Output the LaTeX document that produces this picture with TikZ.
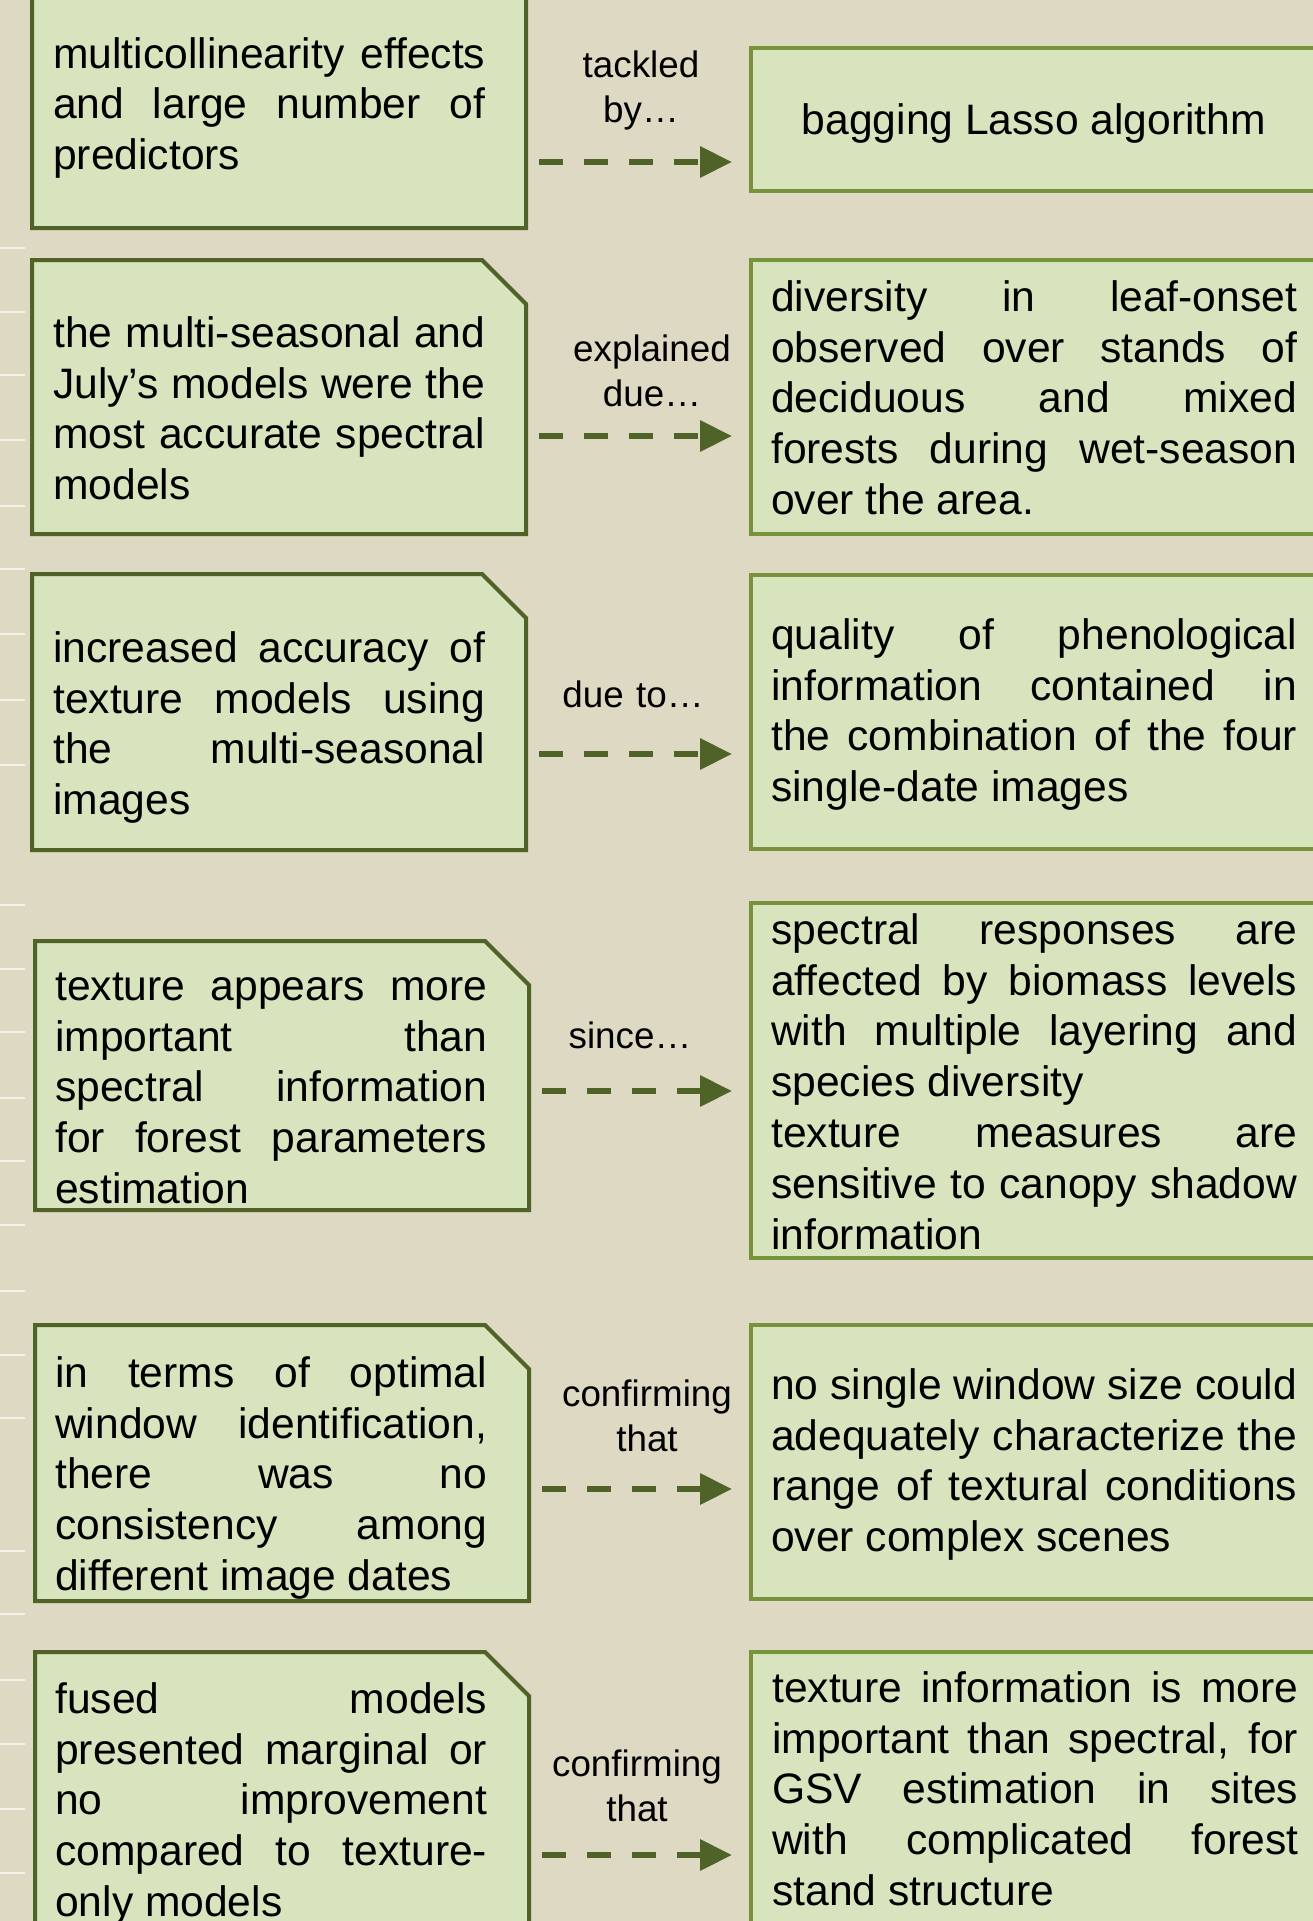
\documentclass[tikz,border=0pt]{standalone}
\usepackage{fontspec}
\setmainfont{Liberation Sans}
\usepackage{tikz}
\usetikzlibrary{arrows.meta,calc}

\definecolor{paper}{HTML}{DDD9C3}
\definecolor{boxfill}{HTML}{D7E4BD}
\definecolor{oliveDark}{HTML}{4F6228}
\definecolor{oliveMid}{HTML}{77933C}
\definecolor{tickwhite}{HTML}{F3F1EA}

% stretch one line of a box over the full text width
\newcommand{\fullline}[1]{\makebox[\hsize][s]{\spaceskip=0pt\xspaceskip=0pt\relax #1}}

\begin{document}
\begin{tikzpicture}[x=1pt, y=-1pt,
  finding/.style={rectangle, inner sep=0pt, outer sep=0pt,
    minimum width=494pt, anchor=north west},
  snipped/.style={draw=oliveDark, fill=boxfill, line width=4pt},
  reason/.style={rectangle, draw=oliveMid, fill=boxfill, line width=4pt,
    inner sep=0pt, minimum width=600pt, anchor=north west},
  boxtext/.style={anchor=north west, inner sep=0pt, yshift=35.56pt, align=justify,
    font=\fontsize{42.6pt}{50.8pt}\selectfont, execute at begin node=\strut},
  linktext/.style={anchor=north, inner sep=0pt, yshift=31.5pt, text width=220pt,
    align=center, font=\fontsize{36.8pt}{45pt}\selectfont, execute at begin node=\strut},
  flow/.style={draw=oliveDark, line width=6.5pt, dash pattern=on 24pt off 21pt,
    -{Triangle[length=32pt, width=30pt]}}]
  \useasboundingbox (0,0) rectangle (1313,1921);
  \clip (0,0) rectangle (1313,1921);
  \fill[paper] (0,0) rectangle (1313,1921);
  % faint ticks on the left margin
  \foreach \ty in {248,312,375,440,506,569,634,700,765,905,969,1032,1098,1161,1225,1291,1355,1418,1551,1614,1680,1744,1809,1873}
    \draw[tickwhite, line width=2.5pt] (0,\ty) -- (25,\ty);

  % boxes: findings on the left, reasons on the right
  \node[finding, minimum height=282pt] (L1) at (32,-54) {};
  \node[finding, minimum height=274pt] (L2) at (32,260) {};
  \node[finding, minimum height=276pt] (L3) at (32,574) {};
  \node[finding, minimum height=269pt] (L4) at (35,941) {};
  \node[finding, minimum height=276pt] (L5) at (35,1325) {};
  \node[finding, minimum height=300pt] (L6) at (35,1652) {};
  \foreach \r in {1,...,6}
    \filldraw[snipped] (L\r.south west) -- (L\r.north west) -- ([xshift=-44pt]L\r.north east)
      -- ([yshift=-44pt]L\r.north east) -- (L\r.south east) -- cycle;
  \node[reason, minimum height=143pt] (R1) at (749,46) {};
  \node[reason, minimum height=274pt] (R2) at (749,258) {};
  \node[reason, minimum height=274pt] (R3) at (749,573) {};
  \node[reason, minimum height=355pt] (R4) at (749,901) {};
  \node[reason, minimum height=274pt] (R5) at (749,1323) {};
  \node[reason, minimum height=300pt] (R6) at (749,1650) {};

  % row 1
  \node[boxtext, text width=432pt] (tL1) at (53,68) {\fullline{multicollinearity effects}\\
    \fullline{and large number of}\\ predictors};
  \node[anchor=base, font=\fontsize{42.6pt}{50.8pt}\selectfont] (tR1) at (1034,135) {bagging Lasso algorithm};
  \node[linktext] (lab1) at (641,77) {tackled\\by…};
  \coordinate (y1) at (0,162);

  % row 2
  \node[boxtext, text width=432pt] (tL2) at (53,347) {\fullline{the multi-seasonal and}\\
    \fullline{July’s models were the}\\ \fullline{most accurate spectral}\\ models};
  \node[boxtext, text width=526pt] (tR2) at (771,311) {\fullline{diversity in leaf-onset}\\
    \fullline{observed over stands of}\\ \fullline{deciduous and mixed}\\
    \fullline{forests during wet-season}\\ over the area.};
  \node[linktext] (lab2) at (652,361) {explained\\due…};
  \coordinate (y2) at (0,436);

  % row 3
  \node[boxtext, text width=432pt] (tL3) at (53,662) {\fullline{increased accuracy of}\\
    \fullline{texture models using}\\ \fullline{the multi-seasonal}\\ images};
  \node[boxtext, text width=526pt] (tR3) at (771,649) {\fullline{quality of phenological}\\
    \fullline{information contained in}\\ \fullline{the combination of the four}\\
    single-date images};
  \node[linktext] (lab3) at (633,707) {due to…};
  \coordinate (y3) at (0,754);

  % row 4
  \node[boxtext, text width=432pt] (tL4) at (55,1000) {\fullline{texture appears more}\\
    \fullline{important than}\\ \fullline{spectral information}\\
    \fullline{for forest parameters}\\ estimation};
  \node[boxtext, text width=526pt] (tR4) at (771,944) {\fullline{spectral responses are}\\
    \fullline{affected by biomass levels}\\ \fullline{with multiple layering and}\\
    species diversity\\ \fullline{texture measures are}\\
    \fullline{sensitive to canopy shadow}\\ information};
  \node[linktext] (lab4) at (630,1048) {since…};
  \coordinate (y4) at (0,1091);

  % row 5
  \node[boxtext, text width=432pt] (tL5) at (55,1387) {\fullline{in terms of optimal}\\
    \fullline{window identification,}\\ \fullline{there was no}\\
    \fullline{consistency among}\\ different image dates};
  \node[boxtext, text width=526pt] (tR5) at (771,1399) {\fullline{no single window size could}\\
    \fullline{adequately characterize the}\\ \fullline{range of textural conditions}\\
    over complex scenes};
  \node[linktext] (lab5) at (647,1406) {confirming\\that};
  \coordinate (y5) at (0,1489);

  % row 6 (runs off the bottom)
  \node[boxtext, text width=432pt] (tL6) at (55,1713) {\fullline{fused models}\\
    \fullline{presented marginal or}\\ \fullline{no improvement}\\
    \fullline{compared to texture-}\\ only models};
  \node[boxtext, text width=526pt] (tR6) at (772,1702) {\fullline{texture information is more}\\
    \fullline{important than spectral, for}\\ \fullline{GSV estimation in sites}\\
    \fullline{with complicated forest}\\ stand structure};
  \node[linktext] (lab6) at (637,1776) {confirming\\that};
  \coordinate (y6) at (0,1855);

  % dashed links from each finding to its reason
  \foreach \r in {1,...,6}
    \draw[flow] ($(L\r.east |- y\r)+(13,0)$) -- ($(R\r.west |- y\r)-(17,0)$);
\end{tikzpicture}
\end{document}
